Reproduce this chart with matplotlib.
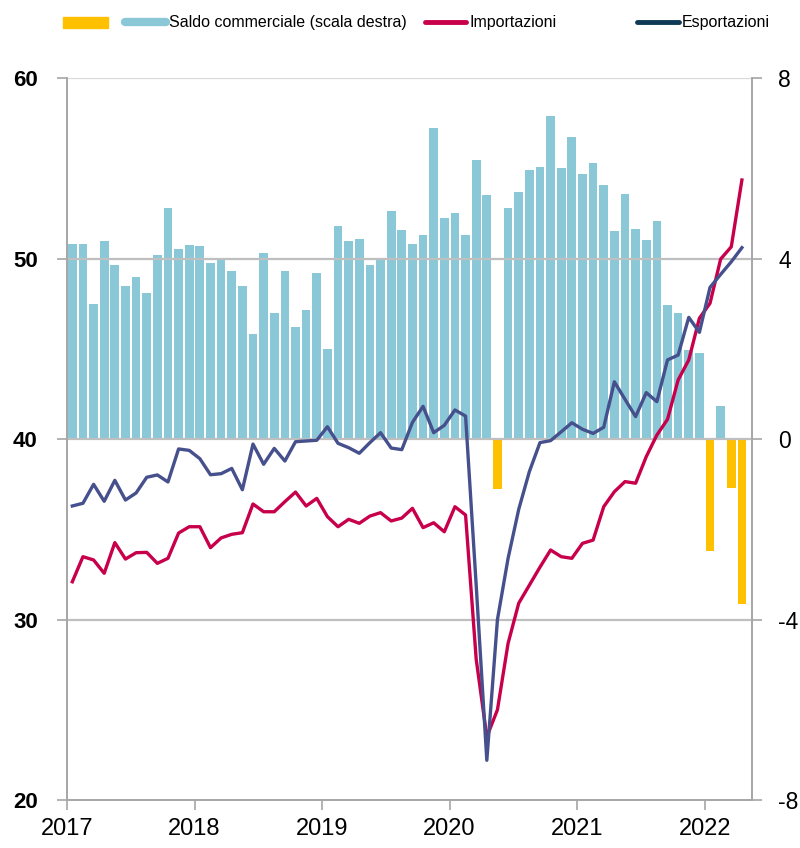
import matplotlib
matplotlib.use('Agg')
import matplotlib.pyplot as plt
from matplotlib.lines import Line2D
from matplotlib.patches import Rectangle
import numpy as np

# monthly data, Jan 2017 - Apr 2022
years = ['2017', '2018', '2019', '2020', '2021', '2022']

saldo = [4.33, 4.33, 2.99, 4.38, 3.85, 3.40, 3.59, 3.24, 4.07, 5.13, 4.21, 4.29,
         4.27, 3.90, 3.98, 3.73, 3.39, 2.32, 4.12, 2.79, 3.73, 2.48, 2.85, 3.68,
         1.99, 4.73, 4.38, 4.43, 3.85, 4.02, 5.06, 4.63, 4.32, 4.52, 6.90, 4.89,
         5.01, 4.52, 6.18, 5.40, -1.11, 5.13, 5.47, 5.96, 6.03, 7.16, 6.01, 6.70,
         5.87, 6.12, 5.63, 4.61, 5.44, 4.65, 4.42, 4.83, 2.96, 2.79, 1.97, 1.91,
         -2.48, 0.74, -1.08, -3.66]

esportazioni = [36.29, 36.44, 37.49, 36.55, 37.71, 36.62, 37.01, 37.88, 38.01, 37.62, 39.45, 39.37,
                38.91, 38.02, 38.08, 38.37, 37.19, 39.72, 38.60, 39.48, 38.78, 39.85, 39.89, 39.93,
                40.68, 39.76, 39.52, 39.21, 39.80, 40.35, 39.50, 39.41, 40.92, 41.81, 40.35, 40.76,
                41.61, 41.27, 31.9, 22.2, 30.0, 33.39, 36.1, 38.19, 39.8, 39.91, 40.4, 40.9,
                40.54, 40.31, 40.65, 43.17, 42.2, 41.24, 42.57, 42.07, 44.38, 44.65, 46.74, 45.91,
                48.40, 49.12, 49.82, 50.6]

importazioni = [32.09, 33.48, 33.30, 32.56, 34.26, 33.35, 33.70, 33.72, 33.11, 33.39, 34.79, 35.14,
                35.14, 33.98, 34.52, 34.72, 34.81, 36.40, 35.97, 35.97, 36.53, 37.06, 36.29, 36.71,
                35.70, 35.14, 35.55, 35.33, 35.73, 35.92, 35.46, 35.62, 36.16, 35.09, 35.36, 34.86,
                36.25, 35.79, 27.8, 23.5, 25.0, 28.68, 30.9, 31.9, 32.9, 33.85, 33.48, 33.39,
                34.22, 34.4, 36.25, 37.08, 37.64, 37.55, 39.02, 40.22, 41.09, 43.27, 44.38, 46.69,
                47.52, 49.97, 50.65, 54.35]

plt.rcParams['axes.unicode_minus'] = False
sans = ['Liberation Sans', 'DejaVu Sans']
CYAN = '#8AC8D8'
ORANGE = '#FFC000'
RED = '#C8004B'
NAVY = '#45508C'
GRID = '#BFBFBF'

x = np.arange(len(saldo))
saldo = np.array(saldo)

fig = plt.figure(figsize=(8, 8.48), dpi=100)
ax2 = fig.add_axes([0.08375, 0.0566, 0.85625, 0.8514])
ax = ax2.twinx()
ax.yaxis.tick_left()
ax2.yaxis.tick_right()
ax.set_zorder(ax2.get_zorder() + 1)
ax.patch.set_visible(False)

# bars on right scale
colors = [CYAN if v >= 0 else ORANGE for v in saldo]
ax2.bar(x, saldo, width=0.82, color=colors, edgecolor='none')
ax2.set_ylim(-8, 8)
ax2.set_yticks([-8, -4, 0, 4, 8])

# lines on left scale
for yv in [30, 40, 50]:
    ax.axhline(yv, color=GRID, lw=1.6, zorder=1)
ax.axhline(60, color='#D9D9D9', lw=1.6, zorder=1)
ax.plot(x, importazioni, color=RED, lw=2.4, zorder=3)
ax.plot(x, esportazioni, color=NAVY, lw=2.4, zorder=4)
ax.set_ylim(20, 60)
ax.set_yticks([20, 30, 40, 50, 60])
ax.set_xlim(-0.5, 63.95)

ax2.set_xticks(np.arange(len(years)) * 12 - 0.5)
ax2.set_xticklabels(years)

for a in (ax, ax2):
    for s in a.spines.values():
        s.set_color('#A6A6A6')
        s.set_linewidth(1.2)
    a.spines['top'].set_visible(False)

ax.tick_params(axis='y', direction='out', length=7, width=1.2, color='#A6A6A6', pad=14)
ax2.tick_params(axis='y', direction='out', length=7, width=1.2, color='#A6A6A6', pad=12)
ax2.tick_params(axis='x', direction='out', length=7, width=1.2, color='#A6A6A6', pad=6)
ax.tick_params(axis='x', bottom=False, labelbottom=False)

for lab in ax.get_yticklabels():
    lab.set_fontfamily(sans)
    lab.set_fontweight('bold')
    lab.set_fontsize(16)
for lab in ax2.get_yticklabels():
    lab.set_fontfamily(sans)
    lab.set_fontsize(16.5)
for lab in ax2.get_xticklabels():
    lab.set_fontfamily(sans)
    lab.set_fontsize(17)

# legend drawn in figure coordinates
W, H = 800, 848
yl = 1 - 22 / H
fig.patches.append(Rectangle((63 / W, 1 - 28 / H), 45 / W, 11 / H,
                             transform=fig.transFigure, color=ORANGE))
fig.lines.append(Line2D([125 / W, 166 / W], [yl, yl], transform=fig.transFigure,
                        color=CYAN, lw=6, solid_capstyle='round'))
fig.text(169 / W, yl, 'Saldo commerciale (scala destra)', fontsize=11.5,
         family=sans, va='center', ha='left')
fig.lines.append(Line2D([425 / W, 466 / W], [yl, yl], transform=fig.transFigure,
                        color=RED, lw=3.5, solid_capstyle='round'))
fig.text(469 / W, yl, 'Importazioni', fontsize=11.5, family=sans, va='center', ha='left')
fig.lines.append(Line2D([637 / W, 679 / W], [yl, yl], transform=fig.transFigure,
                        color='#0E3A55', lw=3.5, solid_capstyle='round'))
fig.text(682 / W, yl, 'Esportazioni', fontsize=11.5, family=sans, va='center', ha='left')

fig.savefig('out.png', dpi=100)
